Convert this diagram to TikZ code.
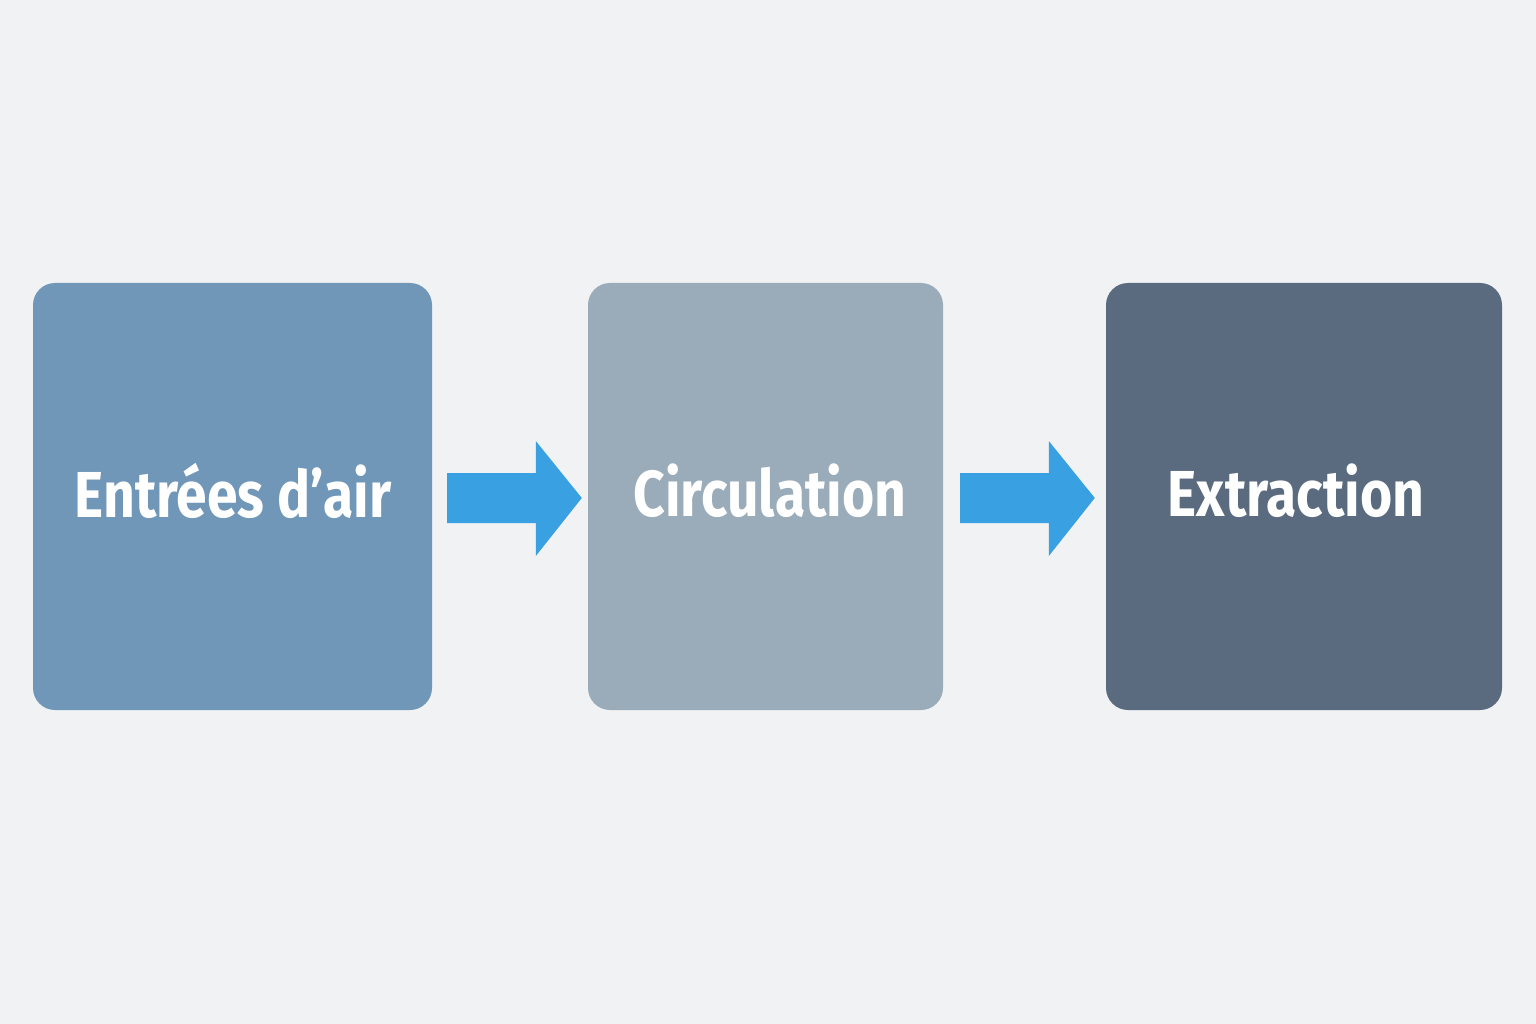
\documentclass[tikz,border=0pt]{standalone}
\usepackage{fontspec}
\setmainfont{Fira Sans}
\newfontfamily\labelfont[FakeStretch=0.85]{Fira Sans}
\usetikzlibrary{calc}
\definecolor{bg}{HTML}{F0F2F4}
\definecolor{boxa}{HTML}{7096B8}
\definecolor{boxb}{HTML}{9AABB9}
\definecolor{boxc}{HTML}{5A6B80}
\definecolor{arrowc}{HTML}{39A0E2}
\tikzset{
  box/.style={rounded corners=22pt, inner sep=0pt, minimum height=427pt},
  label/.style={inner sep=0pt, text=white,
    font=\labelfont\fontsize{65}{72}\selectfont\bfseries},
  flow/.style={fill=arrowc, draw=none},
}
\begin{document}
\begin{tikzpicture}[x=1pt,y=-1pt]
\fill[bg] (0,0) rectangle (1536,1024);
\useasboundingbox (0,0) rectangle (1536,1024);
\node[box, fill=boxa, minimum width=399pt] (b1) at (232.5,496.5) {};
\node[box, fill=boxb, minimum width=355pt] (b2) at (765.5,496.5) {};
\node[box, fill=boxc, minimum width=396pt] (b3) at (1304,496.5) {};
\node[label] (t1) at (233,491) {Entrées d’air};
\node[label] (t2) at (770,491) {Circulation};
\node[label] (t3) at (1296,491) {Extraction};
\coordinate (a1s) at ($(b1.east)+(15,1.5)$);
\coordinate (a1e) at ($(b2.west)+(-6,1.5)$);
\coordinate (a2s) at ($(b2.east)+(17,1.5)$);
\coordinate (a2e) at ($(b3.west)+(-11,1.5)$);
\foreach \s/\e in {a1s/a1e, a2s/a2e} {
  \fill[flow] ($(\s)+(0,-25)$) -- ($(\e)+(-46,-25)$) -- ($(\e)+(-46,-57)$) -- (\e)
    -- ($(\e)+(-46,58)$) -- ($(\e)+(-46,25)$) -- ($(\s)+(0,25)$) -- cycle;
}
\end{tikzpicture}
\end{document}
